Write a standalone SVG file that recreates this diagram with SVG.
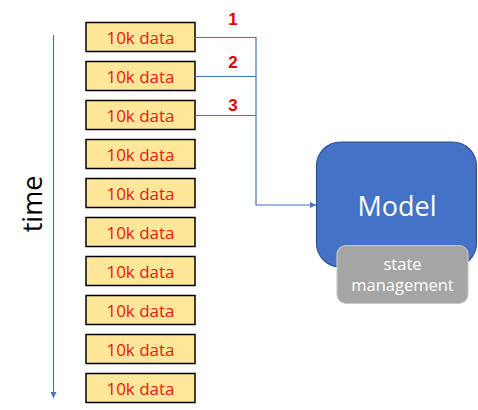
<svg xmlns="http://www.w3.org/2000/svg" width="478" height="410" viewBox="0 0 478 410">
<defs>
<marker id="ah" viewBox="0 0 10 10" refX="10" refY="5" markerWidth="6" markerHeight="6" markerUnits="userSpaceOnUse" orient="auto">
<path d="M0,0 L10,5 L0,10 z" fill="#4472C4"/>
</marker>
<style>
.box{fill:#FFE699;stroke:#000;stroke-width:1.5}
.bt{font-family:"Open Sans","Noto Sans",sans-serif;font-size:17px;fill:#E8190F;text-anchor:middle}
.num{font-family:"Liberation Sans",Arial,sans-serif;font-size:17px;font-weight:bold;fill:#E00000;text-anchor:middle}
.ln{fill:none;stroke:#4472C4;stroke-width:1.2}
</style>
</defs>
<rect width="478" height="410" fill="#fff"/>
<g id="time-axis">
<line x1="53.5" y1="35" x2="53.5" y2="398" class="ln" marker-end="url(#ah)"/>
<text transform="translate(42,204) rotate(-90)" font-family="Open Sans,Noto Sans,sans-serif" font-size="27" fill="#000" text-anchor="middle">time</text>
</g>
<g id="data-1"><rect class="box" x="86" y="22.5" width="109" height="29"/><text class="bt" x="140.5" y="44">10k data</text></g>
<g id="data-2"><rect class="box" x="86" y="61.5" width="109" height="29"/><text class="bt" x="140.5" y="83">10k data</text></g>
<g id="data-3"><rect class="box" x="86" y="100.5" width="109" height="29"/><text class="bt" x="140.5" y="122">10k data</text></g>
<g id="data-4"><rect class="box" x="86" y="139.5" width="109" height="29"/><text class="bt" x="140.5" y="161">10k data</text></g>
<g id="data-5"><rect class="box" x="86" y="178.5" width="109" height="29"/><text class="bt" x="140.5" y="200">10k data</text></g>
<g id="data-6"><rect class="box" x="86" y="217.5" width="109" height="29"/><text class="bt" x="140.5" y="239">10k data</text></g>
<g id="data-7"><rect class="box" x="86" y="256.5" width="109" height="29"/><text class="bt" x="140.5" y="278">10k data</text></g>
<g id="data-8"><rect class="box" x="86" y="295.5" width="109" height="29"/><text class="bt" x="140.5" y="317">10k data</text></g>
<g id="data-9"><rect class="box" x="86" y="334.5" width="109" height="29"/><text class="bt" x="140.5" y="356">10k data</text></g>
<g id="data-10"><rect class="box" x="86" y="373.5" width="109" height="29"/><text class="bt" x="140.5" y="395">10k data</text></g>
<g id="connectors">
<path class="ln" d="M195,37.5 H256 V205 H316" marker-end="url(#ah)"/>
<path class="ln" d="M195,76.5 H256"/>
<path class="ln" d="M195,115.5 H256"/>
<text class="num" x="233" y="25">1</text>
<text class="num" x="233" y="68">2</text>
<text class="num" x="233" y="111">3</text>
</g>
<g id="model">
<rect x="316.5" y="142" width="160" height="125" rx="24" fill="#4472C4" stroke="#2F528F" stroke-width="1.2"/>
<text x="397" y="216" font-family="Open Sans,Noto Sans,sans-serif" font-size="27" fill="#fff" text-anchor="middle">Model</text>
</g>
<g id="state-management">
<rect x="337" y="245.5" width="131" height="58" rx="9" fill="#A5A5A5" stroke="#C8C8C8" stroke-width="1.2"/>
<text font-family="Open Sans,Noto Sans,sans-serif" font-size="16.5" fill="#fff" text-anchor="middle"><tspan x="402.5" y="270">state</tspan><tspan x="402.5" y="291">management</tspan></text>
</g>
</svg>
